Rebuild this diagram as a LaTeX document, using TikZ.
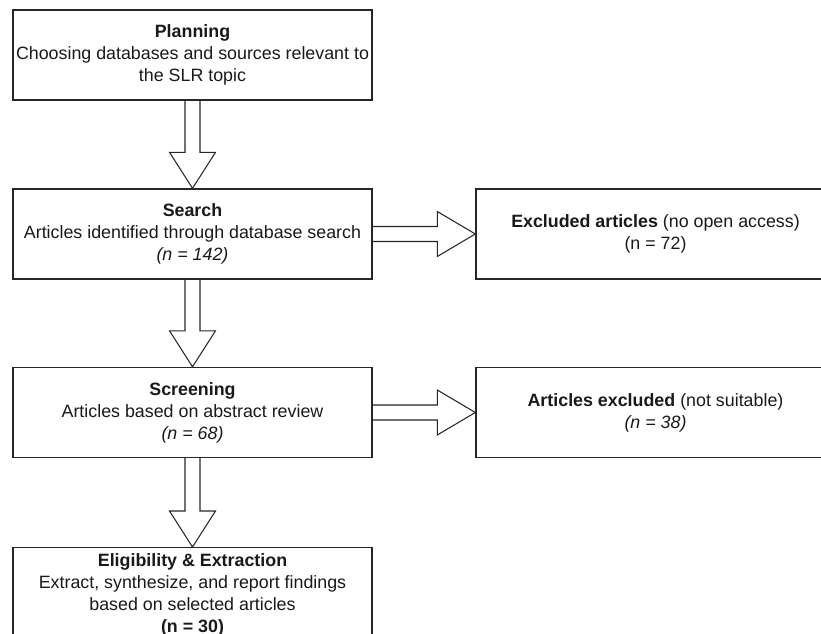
\documentclass[tikz,border=0pt]{standalone}
\usepackage{fontspec}
\setmainfont{Liberation Sans}
\usetikzlibrary{calc}

\begin{document}
\begin{tikzpicture}[
  font=\fontsize{10.15}{12.5}\selectfont,
  box/.style={draw=black!85, line width=0.8pt, rectangle, minimum width=7.18cm, minimum height=1.8cm, inner sep=1pt, align=center, text=black!90},
  stage/.style={box},
  excl/.style={box},
  hollow/.style={draw=black!85, line width=0.6pt, line join=miter},
  downarrow/.style={hollow, to path={let \p1=(\tikztostart), \p2=(\tikztotarget) in
    (\x1-0.15cm,\y1) -- (\x1-0.15cm,\y2+0.72cm) -- (\x1-0.46cm,\y2+0.72cm) -- (\x2,\y2)
    -- (\x1+0.46cm,\y2+0.72cm) -- (\x1+0.15cm,\y2+0.72cm) -- (\x1+0.15cm,\y1)}},
  rightarrow/.style={hollow, to path={let \p1=(\tikztostart), \p2=(\tikztotarget) in
    (\x1,\y1+0.15cm) -- (\x2-0.76cm,\y1+0.15cm) -- (\x2-0.76cm,\y1+0.45cm) -- (\x2,\y1)
    -- (\x2-0.76cm,\y1-0.45cm) -- (\x2-0.76cm,\y1-0.15cm) -- (\x1,\y1-0.15cm)}}
]
\path[use as bounding box, clip] (0,0) rectangle (16.42,-12.68);

\node[stage] (plan) at (3.85,-1.1) {\textbf{Planning}\\Choosing databases and sources relevant to\\the SLR topic};
\node[stage] (search) at (3.85,-4.68) {\textbf{Search}\\Articles identified through database search\\\textit{(n = 142)}};
\node[excl] (noaccess) at (13.11,-4.68) {\textbf{Excluded articles} (no open access)\\(n = 72)};
\node[stage] (screen) at (3.85,-8.25) {\textbf{Screening}\\Articles based on abstract review\\\textit{(n = 68)}};
\node[excl] (unsuit) at (13.11,-8.25) {\textbf{Articles excluded} (not suitable)\\\textit{(n = 38)}};
\node[stage, anchor=north, minimum height=1.9cm] (elig) at (3.85,-10.94) {\textbf{Eligibility \& Extraction}\\Extract, synthesize, and report findings\\based on selected articles\\\textbf{(n = 30)}};

\draw[downarrow] (plan.south) to (search.north);
\draw[downarrow] (search.south) to (screen.north);
\draw[downarrow] (screen.south) to (elig.north);
\draw[rightarrow] (search.east) to (noaccess.west);
\draw[rightarrow] (screen.east) to (unsuit.west);
\end{tikzpicture}
\end{document}
